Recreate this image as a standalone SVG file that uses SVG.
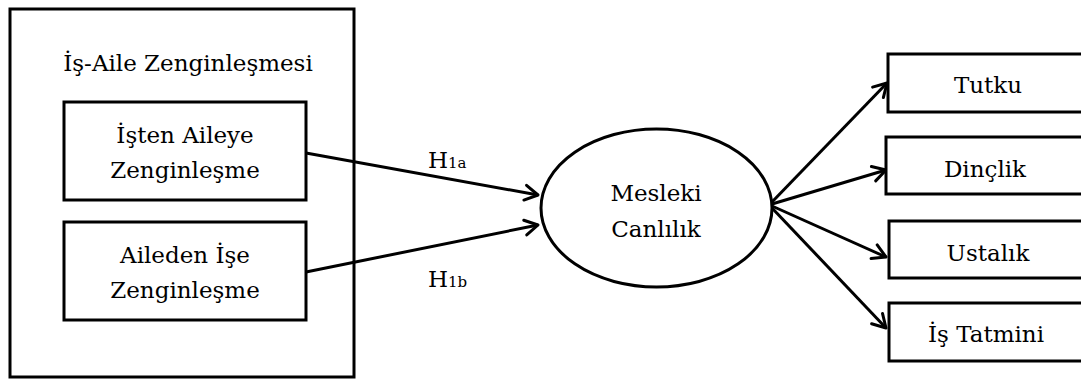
<svg xmlns="http://www.w3.org/2000/svg" width="1081" height="381" viewBox="0 0 1081 381">
<style>
.box{fill:#fff;stroke:#000;stroke-width:3}
.t{font-family:"DejaVu Serif","Liberation Serif",serif;font-size:23px;fill:#000;text-anchor:middle}
.c{stroke:#000;stroke-width:3;fill:none;marker-end:url(#ah)}
</style>
<defs>
<marker id="ah" viewBox="0 0 20 20" refX="16" refY="10" markerWidth="20" markerHeight="20" markerUnits="userSpaceOnUse" orient="auto">
<polyline points="3,2.5 16,10 3,17.5" fill="none" stroke="#000" stroke-width="3" stroke-linecap="round" stroke-linejoin="round"/>
</marker>
</defs>
<rect width="1081" height="381" fill="#fff"/>
<g id="outer">
<rect class="box" x="10" y="9" width="344" height="368"/>
<text class="t" x="188" y="71">İş-Aile Zenginleşmesi</text>
</g>
<g id="n1">
<rect class="box" x="64" y="102" width="242" height="98"/>
<text class="t" x="185" y="143">İşten Aileye</text>
<text class="t" x="185" y="178">Zenginleşme</text>
</g>
<g id="n2">
<rect class="box" x="64" y="222" width="242" height="98"/>
<text class="t" x="185" y="263">Aileden İşe</text>
<text class="t" x="185" y="298">Zenginleşme</text>
</g>
<g id="connectors">
<line class="c" x1="306" y1="153" x2="538" y2="195"/>
<line class="c" x1="306" y1="272" x2="538" y2="225"/>
<line class="c" x1="772" y1="202" x2="887" y2="83"/>
<line class="c" x1="772" y1="204" x2="886" y2="170"/>
<line class="c" x1="772" y1="206" x2="886" y2="257"/>
<line class="c" x1="772" y1="208" x2="886" y2="328"/>
</g>
<g id="labels">
<text class="t" x="428" y="168" style="text-anchor:start">H<tspan font-size="15">1a</tspan></text>
<text class="t" x="428" y="287" style="text-anchor:start">H<tspan font-size="15">1b</tspan></text>
</g>
<g id="mc">
<ellipse class="box" cx="656.5" cy="208" rx="115.5" ry="79"/>
<text class="t" x="656" y="201">Mesleki</text>
<text class="t" x="656" y="237">Canlılık</text>
</g>
<g id="tutku">
<rect class="box" x="888" y="54" width="200" height="58"/>
<text class="t" x="988" y="93">Tutku</text>
</g>
<g id="dinclik">
<rect class="box" x="886" y="137" width="202" height="57"/>
<text class="t" x="985" y="177">Dinçlik</text>
</g>
<g id="ustalik">
<rect class="box" x="889" y="221" width="199" height="57"/>
<text class="t" x="988" y="261">Ustalık</text>
</g>
<g id="tatmin">
<rect class="box" x="889" y="303" width="199" height="58"/>
<text class="t" x="986" y="342">İş Tatmini</text>
</g>
</svg>
